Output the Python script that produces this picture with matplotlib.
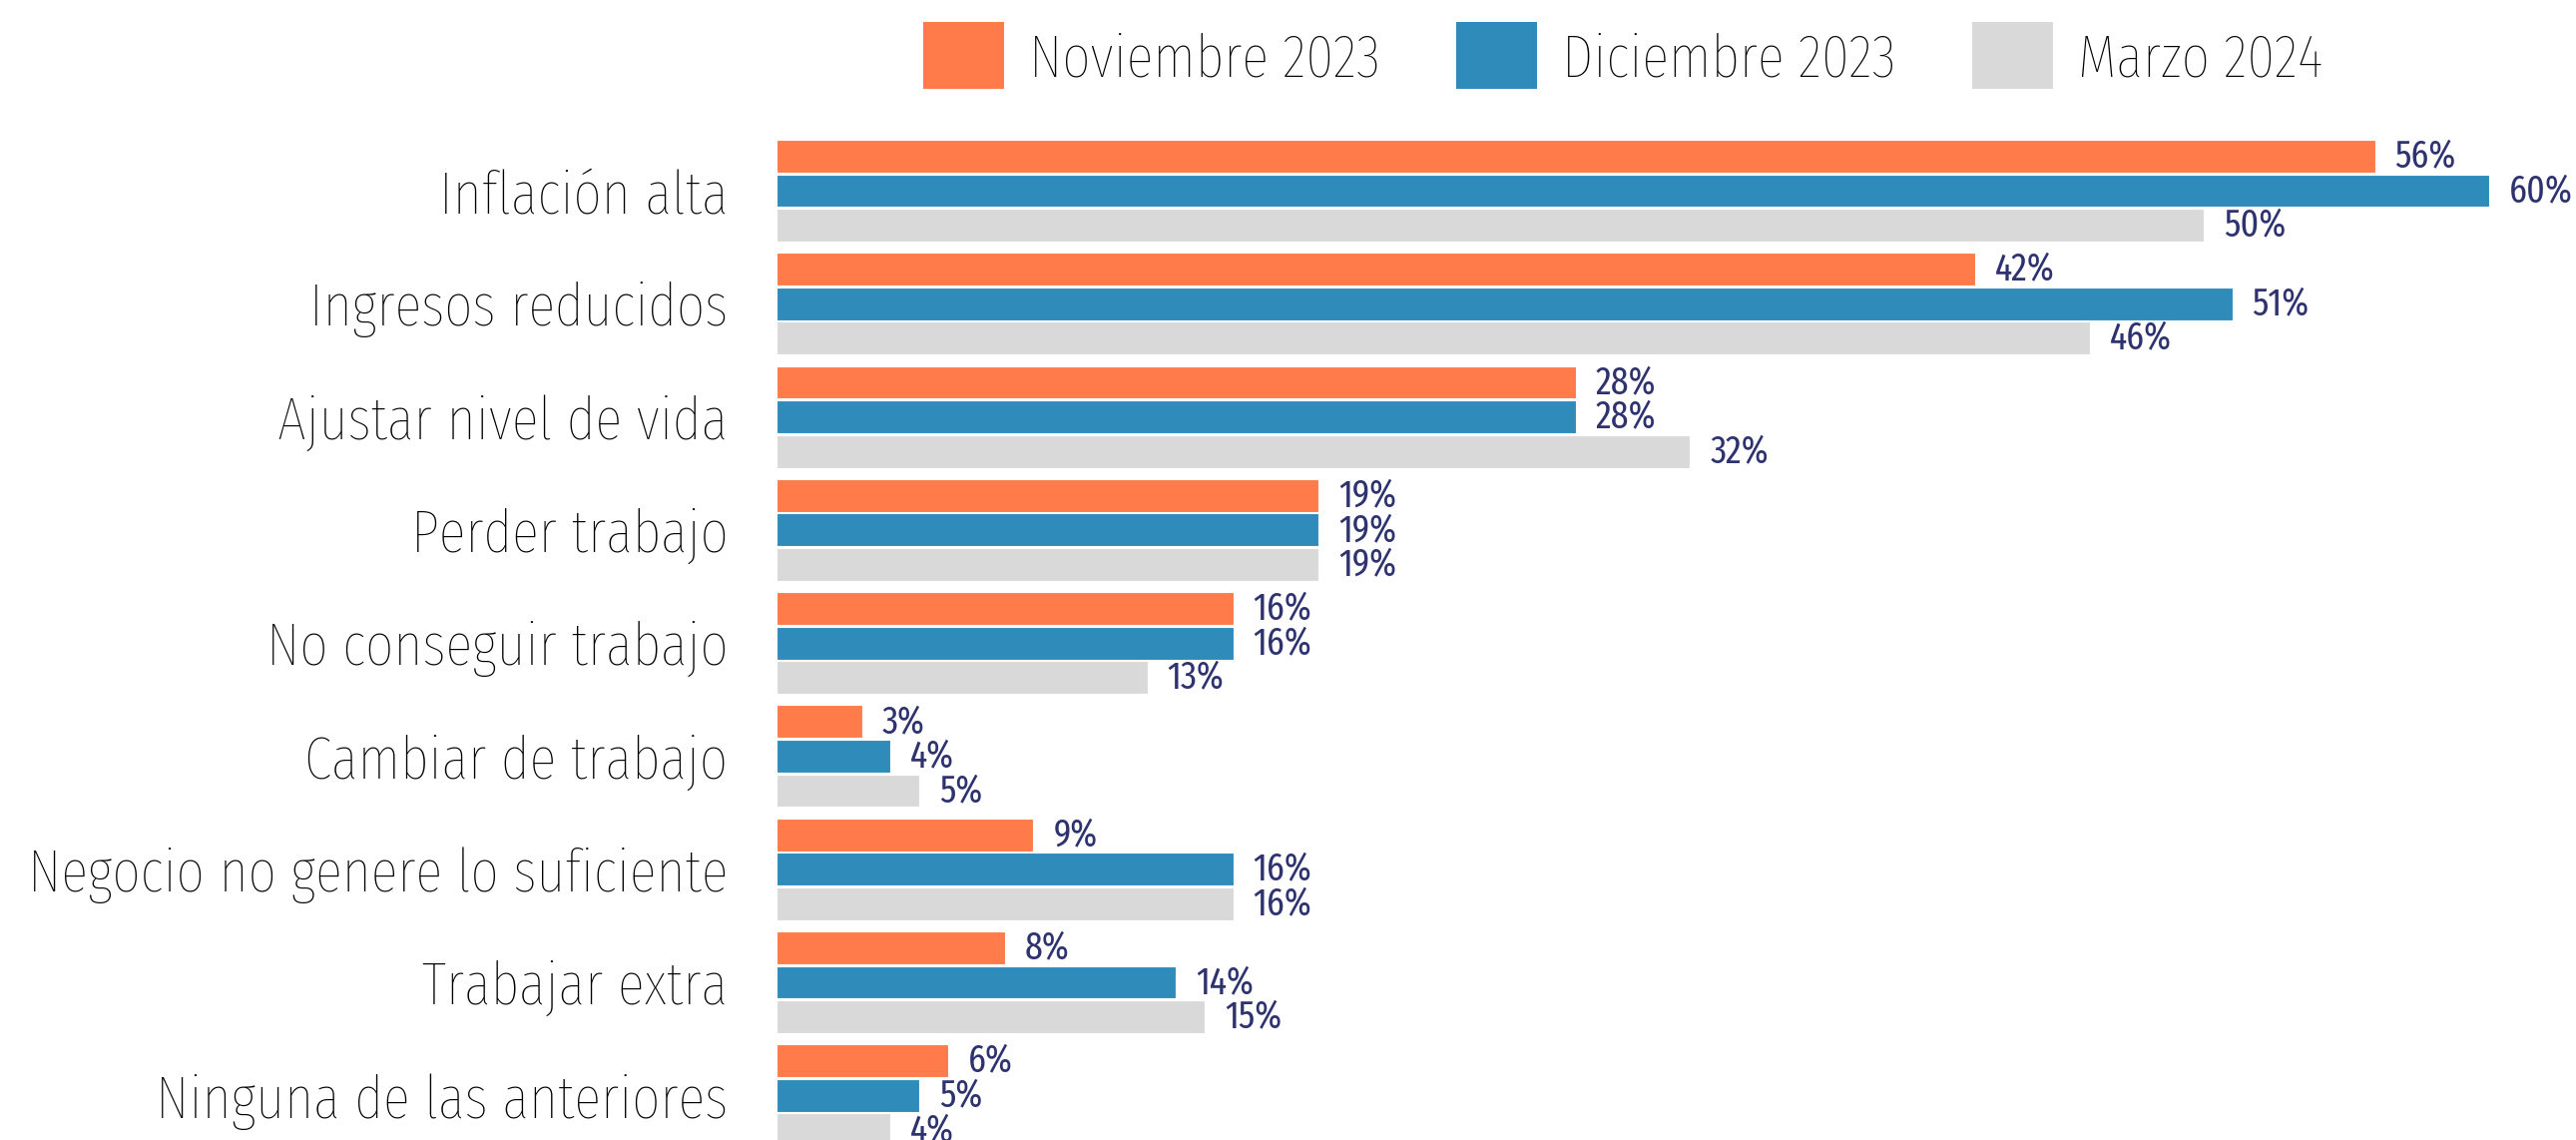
import numpy as np
import matplotlib
matplotlib.use("Agg")
import matplotlib.pyplot as plt
from matplotlib.patches import Patch

# Data
categories = [
    "Inflación alta",
    "Ingresos reducidos",
    "Ajustar nivel de vida",
    "Perder trabajo",
    "No conseguir trabajo",
    "Cambiar de trabajo",
    "Negocio no genere lo suficiente",
    "Trabajar extra",
    "Ninguna de las anteriores",
]
nov_2023 = [56, 42, 28, 19, 16, 3, 9, 8, 6]
dic_2023 = [60, 51, 28, 19, 16, 4, 16, 14, 5]
mar_2024 = [50, 46, 32, 19, 13, 5, 16, 15, 4]
series_names = ["Noviembre 2023", "Diciembre 2023", "Marzo 2024"]

colors = ["#FF7B4A", "#2E8BBA", "#D9D9D9"]
label_color = "#2E3370"

plt.rcParams["font.family"] = ["Fira Sans Extra Condensed", "Fira Sans Condensed",
                               "Roboto Condensed", "DejaVu Sans"]
plt.rcParams["font.weight"] = "light"

fig = plt.figure(figsize=(25.81, 11.42), dpi=100)
ax = fig.add_axes([0.3014, 0.0, 0.6986, 1.0])

y = np.arange(len(categories))
bar_h = 0.29
step = 0.305
offsets = [-step, 0, step]

for vals, off, col in zip([nov_2023, dic_2023, mar_2024], offsets, colors):
    bars = ax.barh(y + off, vals, height=bar_h, color=col, edgecolor="white", linewidth=0.8)
    for b, v in zip(bars, vals):
        ax.text(b.get_width() + 0.7, b.get_y() + b.get_height() / 2, f"{v}%",
                va="center", ha="left", fontsize=28, color=label_color,
                fontweight="normal")

ax.set_xlim(0, 63.04)
ax.set_ylim(8.394, -1.686)
ax.set_yticks(y)
ax.set_yticklabels(categories, fontsize=44, color="black")
ax.tick_params(axis="y", length=0, pad=35)
ax.set_xticks([])
for s in ax.spines.values():
    s.set_visible(False)

handles = [Patch(facecolor=c, edgecolor="none") for c in colors]
fig.legend(handles, series_names, loc="center", bbox_to_anchor=(0.63, 0.951),
           ncol=3, frameon=False, fontsize=44, handlelength=1.33, handleheight=1.31,
           handletextpad=0.4, columnspacing=1.25)

fig.savefig("out.png", dpi=100)
